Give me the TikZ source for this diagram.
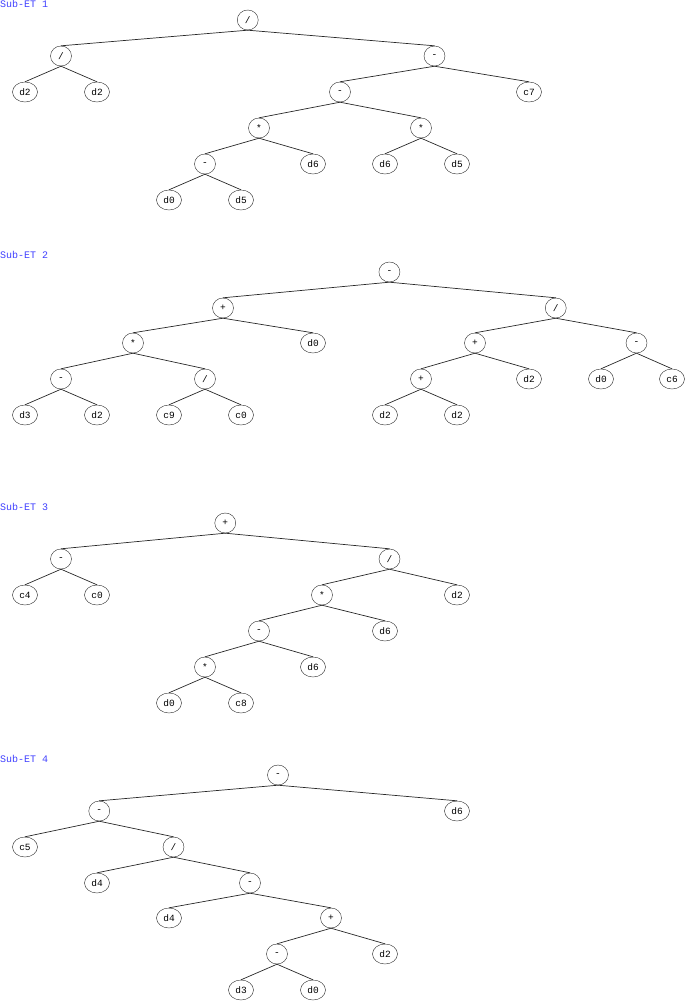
\documentclass[tikz,border=0pt]{standalone}
\usepackage{fontspec}
\setmonofont{Liberation Mono}
\usepackage{xcolor}
\usepackage{tikz}
\usetikzlibrary{shapes.geometric}
\definecolor{etblue}{RGB}{64,64,255}
\definecolor{edgegray}{RGB}{40,40,40}

\begin{document}
\begin{tikzpicture}[x=1pt, y=-1pt,
  opnode/.style={draw=edgegray, ellipse, inner sep=0pt, minimum width=21pt, minimum height=20pt, font=\ttfamily\fontsize{9.5}{10}\selectfont},
  leafnode/.style={draw=edgegray, ellipse, inner sep=0pt, minimum width=25pt, minimum height=20pt, font=\ttfamily\fontsize{9.5}{10}\selectfont},
  etlabel/.style={anchor=base west, inner sep=0pt, text=etblue, font=\ttfamily\fontsize{10}{11}\selectfont},
  edge/.style={draw=edgegray, line width=0.7pt}]
\useasboundingbox (0,0) rectangle (685,1001);

% Sub-ET 1
\node[etlabel] (lab1) at (0,7) {Sub-ET 1};
\node[opnode] (t1a) at (247.75,20) {/};
\node[opnode] (t1b) at (61,56) {/};
\node[opnode] (t1c) at (434.5,56) {-};
\node[leafnode] (t1d) at (25,92) {d2};
\node[leafnode] (t1e) at (97,92) {d2};
\node[opnode] (t1f) at (340,92) {-};
\node[leafnode] (t1g) at (529,92) {c7};
\node[opnode] (t1h) at (259,128) {*};
\node[opnode] (t1i) at (421,128) {*};
\node[opnode] (t1j) at (205,164) {-};
\node[leafnode] (t1k) at (313,164) {d6};
\node[leafnode] (t1l) at (385,164) {d6};
\node[leafnode] (t1m) at (457,164) {d5};
\node[leafnode] (t1n) at (169,200) {d0};
\node[leafnode] (t1o) at (241,200) {d5};
\draw[edge] (t1a.south) -- (t1b.north);
\draw[edge] (t1a.south) -- (t1c.north);
\draw[edge] (t1b.south) -- (t1d.north);
\draw[edge] (t1b.south) -- (t1e.north);
\draw[edge] (t1c.south) -- (t1f.north);
\draw[edge] (t1c.south) -- (t1g.north);
\draw[edge] (t1f.south) -- (t1h.north);
\draw[edge] (t1f.south) -- (t1i.north);
\draw[edge] (t1h.south) -- (t1j.north);
\draw[edge] (t1h.south) -- (t1k.north);
\draw[edge] (t1i.south) -- (t1l.north);
\draw[edge] (t1i.south) -- (t1m.north);
\draw[edge] (t1j.south) -- (t1n.north);
\draw[edge] (t1j.south) -- (t1o.north);

% Sub-ET 2
\node[etlabel] (lab2) at (0,258) {Sub-ET 2};
\node[opnode] (t2a) at (389.4,272) {-};
\node[opnode] (t2b) at (223,308) {+};
\node[opnode] (t2c) at (555.75,308) {/};
\node[opnode] (t2d) at (133,343) {*};
\node[leafnode] (t2e) at (313,343) {d0};
\node[opnode] (t2f) at (475,343) {+};
\node[opnode] (t2g) at (636.5,343) {-};
\node[opnode] (t2h) at (61,379) {-};
\node[opnode] (t2i) at (205,379) {/};
\node[opnode] (t2j) at (421,379) {+};
\node[leafnode] (t2k) at (529,379) {d2};
\node[leafnode] (t2l) at (601,379) {d0};
\node[leafnode] (t2m) at (672,379) {c6};
\node[leafnode] (t2n) at (25,415) {d3};
\node[leafnode] (t2o) at (97,415) {d2};
\node[leafnode] (t2p) at (169,415) {c9};
\node[leafnode] (t2q) at (241,415) {c0};
\node[leafnode] (t2r) at (385,415) {d2};
\node[leafnode] (t2s) at (457,415) {d2};
\draw[edge] (t2a.south) -- (t2b.north);
\draw[edge] (t2a.south) -- (t2c.north);
\draw[edge] (t2b.south) -- (t2d.north);
\draw[edge] (t2b.south) -- (t2e.north);
\draw[edge] (t2c.south) -- (t2f.north);
\draw[edge] (t2c.south) -- (t2g.north);
\draw[edge] (t2d.south) -- (t2h.north);
\draw[edge] (t2d.south) -- (t2i.north);
\draw[edge] (t2f.south) -- (t2j.north);
\draw[edge] (t2f.south) -- (t2k.north);
\draw[edge] (t2g.south) -- (t2l.north);
\draw[edge] (t2g.south) -- (t2m.north);
\draw[edge] (t2h.south) -- (t2n.north);
\draw[edge] (t2h.south) -- (t2o.north);
\draw[edge] (t2i.south) -- (t2p.north);
\draw[edge] (t2i.south) -- (t2q.north);
\draw[edge] (t2j.south) -- (t2r.north);
\draw[edge] (t2j.south) -- (t2s.north);

% Sub-ET 3
\node[etlabel] (lab3) at (0,510) {Sub-ET 3};
\node[opnode] (t3a) at (225.25,523) {+};
\node[opnode] (t3b) at (61,559) {-};
\node[opnode] (t3c) at (389.5,559) {/};
\node[leafnode] (t3d) at (25,595) {c4};
\node[leafnode] (t3e) at (97,595) {c0};
\node[opnode] (t3f) at (322,595) {*};
\node[leafnode] (t3g) at (457,595) {d2};
\node[opnode] (t3h) at (259,631) {-};
\node[leafnode] (t3i) at (385,631) {d6};
\node[opnode] (t3j) at (205,667) {*};
\node[leafnode] (t3k) at (313,667) {d6};
\node[leafnode] (t3l) at (169,703) {d0};
\node[leafnode] (t3m) at (241,703) {c8};
\draw[edge] (t3a.south) -- (t3b.north);
\draw[edge] (t3a.south) -- (t3c.north);
\draw[edge] (t3b.south) -- (t3d.north);
\draw[edge] (t3b.south) -- (t3e.north);
\draw[edge] (t3c.south) -- (t3f.north);
\draw[edge] (t3c.south) -- (t3g.north);
\draw[edge] (t3f.south) -- (t3h.north);
\draw[edge] (t3f.south) -- (t3i.north);
\draw[edge] (t3h.south) -- (t3j.north);
\draw[edge] (t3h.south) -- (t3k.north);
\draw[edge] (t3j.south) -- (t3l.north);
\draw[edge] (t3j.south) -- (t3m.north);

% Sub-ET 4
\node[etlabel] (lab4) at (0,762) {Sub-ET 4};
\node[opnode] (t4a) at (278,775) {-};
\node[opnode] (t4b) at (99.25,811) {-};
\node[leafnode] (t4c) at (457,811) {d6};
\node[leafnode] (t4d) at (25,847) {c5};
\node[opnode] (t4e) at (173.5,847) {/};
\node[leafnode] (t4f) at (97,883) {d4};
\node[opnode] (t4g) at (250,883) {-};
\node[leafnode] (t4h) at (169,918) {d4};
\node[opnode] (t4i) at (331,918) {+};
\node[opnode] (t4j) at (277,954) {-};
\node[leafnode] (t4k) at (385,954) {d2};
\node[leafnode] (t4l) at (241,990) {d3};
\node[leafnode] (t4m) at (313,990) {d0};
\draw[edge] (t4a.south) -- (t4b.north);
\draw[edge] (t4a.south) -- (t4c.north);
\draw[edge] (t4b.south) -- (t4d.north);
\draw[edge] (t4b.south) -- (t4e.north);
\draw[edge] (t4e.south) -- (t4f.north);
\draw[edge] (t4e.south) -- (t4g.north);
\draw[edge] (t4g.south) -- (t4h.north);
\draw[edge] (t4g.south) -- (t4i.north);
\draw[edge] (t4i.south) -- (t4j.north);
\draw[edge] (t4i.south) -- (t4k.north);
\draw[edge] (t4j.south) -- (t4l.north);
\draw[edge] (t4j.south) -- (t4m.north);
\end{tikzpicture}
\end{document}
